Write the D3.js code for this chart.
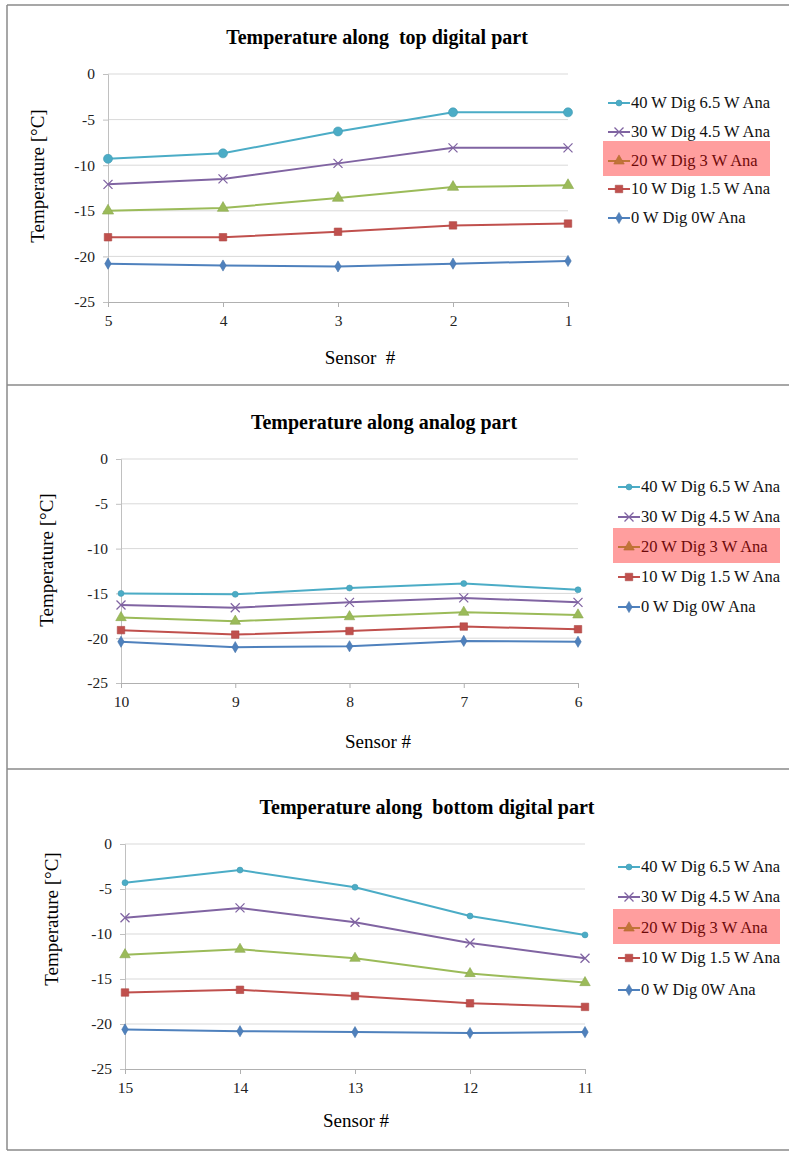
<!DOCTYPE html>
<meta charset="utf-8">
<style>
    body { margin: 0; background: #fff; }
    text { font-family: "Liberation Serif", "Times New Roman", serif; fill: #000; }
    .title { font-weight: bold; font-size: 20px; text-anchor: middle; white-space: pre; }
    .axis-title { font-size: 19px; text-anchor: middle; white-space: pre; }
    .legend text { font-size: 16.5px; fill: #111; }
    .grid line { stroke: #d9d9d9; stroke-width: 1; }
</style>
<body>
<svg id="chart" width="789" height="1152"></svg>
<script src="https://cdn.jsdelivr.net/npm/d3@7"></script>
<script>
// series names (legend order, top to bottom)
var seriesNames = ["40 W Dig 6.5 W Ana", "30 W Dig 4.5 W Ana", "20 W Dig 3 W Ana", "10 W Dig 1.5 W Ana", "0 W Dig 0W Ana"];
var seriesColors = ["#4bacc6", "#8064a2", "#9bbb59", "#c0504d", "#4f81bd"];
var seriesMarkers = ["circle", "x", "triangle", "square", "diamond"];

var yTicks = [0, -5, -10, -15, -20, -25];

// top digital part
var sensorsTop = ["5", "4", "3", "2", "1"];
var top40 = [-9.3, -8.7, -6.3, -4.2, -4.2];
var top30 = [-12.1, -11.5, -9.8, -8.1, -8.1];
var top20 = [-15.0, -14.7, -13.6, -12.4, -12.2];
var top10 = [-17.9, -17.9, -17.3, -16.6, -16.4];
var top0 = [-20.8, -21.0, -21.1, -20.8, -20.5];

// analog part
var sensorsAna = ["10", "9", "8", "7", "6"];
var ana40 = [-15.0, -15.1, -14.4, -13.9, -14.6];
var ana30 = [-16.3, -16.6, -16.0, -15.5, -16.0];
var ana20 = [-17.7, -18.1, -17.6, -17.1, -17.4];
var ana10 = [-19.1, -19.6, -19.2, -18.7, -19.0];
var ana0 = [-20.4, -21.0, -20.9, -20.3, -20.4];

// bottom digital part
var sensorsBot = ["15", "14", "13", "12", "11"];
var bot40 = [-4.3, -2.9, -4.8, -8.0, -10.1];
var bot30 = [-8.2, -7.1, -8.7, -11.0, -12.7];
var bot20 = [-12.3, -11.7, -12.7, -14.4, -15.4];
var bot10 = [-16.5, -16.2, -16.9, -17.7, -18.1];
var bot0 = [-20.6, -20.8, -20.9, -21.0, -20.9];

var panels = [
    {title: "Temperature along  top digital part", xTitle: "Sensor  #", sensors: sensorsTop,
     values: [top40, top30, top20, top10, top0],
     x0: 108, x1: 568, yTop: 74, yBot: 302, titleX: 377, titleY: 44,
     yLabX: 38, yLabY: 176, xLabX: 360, xLabY: 364, big: true,
     legX: 608, legRows: [103, 132, 161, 189, 218], hiY: 141},
    {title: "Temperature along analog part", xTitle: "Sensor #", sensors: sensorsAna,
     values: [ana40, ana30, ana20, ana10, ana0],
     x0: 121, x1: 578, yTop: 459, yBot: 683, titleX: 384, titleY: 429,
     yLabX: 47, yLabY: 560, xLabX: 378, xLabY: 748, big: false,
     legX: 618, legRows: [487, 517, 547, 577, 607], hiY: 528},
    {title: "Temperature along  bottom digital part", xTitle: "Sensor #", sensors: sensorsBot,
     values: [bot40, bot30, bot20, bot10, bot0],
     x0: 125, x1: 585, yTop: 844, yBot: 1069, titleX: 427, titleY: 814,
     yLabX: 52, yLabY: 919, xLabX: 356, xLabY: 1127, big: false,
     legX: 618, legRows: [867, 897, 928, 958, 990], hiY: 909}
];

var svg = d3.select("#chart");

// frames
var frame = svg.append("g").attr("stroke", "#8a8a8a").attr("stroke-width", 1.5);
frame.append("line").attr("x1", 7).attr("x2", 789).attr("y1", 5).attr("y2", 5);
frame.append("line").attr("x1", 7).attr("x2", 7).attr("y1", 5).attr("y2", 1150);
frame.append("line").attr("x1", 7).attr("x2", 789).attr("y1", 385).attr("y2", 385);
frame.append("line").attr("x1", 7).attr("x2", 789).attr("y1", 769).attr("y2", 769);
frame.append("line").attr("x1", 7).attr("x2", 789).attr("y1", 1150).attr("y2", 1150);

function marker(g, type, cx, cy, color, big) {
    if (type == "x") {
        var r = 4.5;
        g.append("path")
            .attr("d", "M" + (cx - r) + "," + (cy - r) + "L" + (cx + r) + "," + (cy + r) +
                "M" + (cx - r) + "," + (cy + r) + "L" + (cx + r) + "," + (cy - r))
            .attr("stroke", color).attr("stroke-width", 1.3).attr("fill", "none");
        return;
    }
    var sym = {circle: d3.symbolCircle, triangle: d3.symbolTriangle, square: d3.symbolSquare, diamond: d3.symbolDiamond}[type];
    var size = {circle: big ? 64 : 28, triangle: big ? 55 : 48, square: 56, diamond: 36}[type];
    g.append("path")
        .attr("d", d3.symbol().type(sym).size(size)())
        .attr("transform", "translate(" + cx + "," + cy + ")")
        .attr("fill", color)
        .attr("stroke", d3.color(color).darker(0.3))
        .attr("stroke-width", 0.6);
}

panels.forEach(function(p) {
    var g = svg.append("g");

    var x = d3.scalePoint().domain(p.sensors).range([p.x0, p.x1]);
    var y = d3.scaleLinear().domain([-25, 0]).range([p.yBot, p.yTop]);

    // gridlines
    g.append("g").attr("class", "grid")
        .selectAll("line")
        .data(yTicks.filter(function(d) { return d > -25; }))
        .enter().append("line")
        .attr("x1", p.x0).attr("x2", p.x1)
        .attr("y1", function(d) { return y(d); })
        .attr("y2", function(d) { return y(d); });

    var yAxis = g.append("g")
        .attr("transform", "translate(" + p.x0 + ",0)")
        .call(d3.axisLeft(y).tickValues(yTicks).tickSize(5).tickPadding(8)
            .tickFormat(function(d) { return String(d); }));
    yAxis.attr("font-family", null).attr("font-size", null);
    yAxis.selectAll("line, path").attr("stroke", "#c0c0c0");
    yAxis.selectAll("text")
        .style("font-family", "'Liberation Serif', serif")
        .style("font-size", "15.5px")
        .style("fill", "#222");

    var xAxis = g.append("g")
        .attr("transform", "translate(0," + p.yBot + ")")
        .call(d3.axisBottom(x).tickSize(5).tickPadding(8).tickSizeOuter(0));
    xAxis.attr("font-family", null).attr("font-size", null);
    xAxis.select(".domain").attr("stroke", "#b0b0b0");
    xAxis.selectAll("line").attr("stroke", "#b0b0b0");
    xAxis.selectAll("text")
        .style("font-family", "'Liberation Serif', serif")
        .style("font-size", "15.5px")
        .style("fill", "#222");

    // series
    var line = d3.line()
        .x(function(d, i) { return x(p.sensors[i]); })
        .y(function(d) { return y(d); });

    // draw bottom series first so top series lie above
    for (var k = p.values.length - 1; k >= 0; k--) {
        var vals = p.values[k];
        g.append("path")
            .datum(vals)
            .attr("d", line)
            .attr("fill", "none")
            .attr("stroke", seriesColors[k])
            .attr("stroke-width", 2);
        vals.forEach(function(v, i) {
            marker(g, seriesMarkers[k], x(p.sensors[i]), y(v), seriesColors[k], p.big);
        });
    }

    // titles
    g.append("text").attr("class", "title").attr("x", p.titleX).attr("y", p.titleY).text(p.title);
    g.append("text").attr("class", "axis-title").attr("x", p.xLabX).attr("y", p.xLabY).text(p.xTitle);
    g.append("text").attr("class", "axis-title")
        .attr("transform", "translate(" + (p.yLabX + 6) + "," + p.yLabY + ") rotate(-90)")
        .text("Temperature [°C]");

    // legend
    var leg = g.append("g").attr("class", "legend");
    seriesNames.forEach(function(name, k) {
        var ly = p.legRows[k];
        leg.append("line")
            .attr("x1", p.legX).attr("x2", p.legX + 22)
            .attr("y1", ly).attr("y2", ly)
            .attr("stroke", seriesColors[k]).attr("stroke-width", 2);
        marker(leg, seriesMarkers[k], p.legX + 11, ly, seriesColors[k], false);
        leg.append("text").attr("x", p.legX + 23).attr("y", ly + 5).text(name);
    });

    // highlight box over the third legend row
    g.append("rect")
        .attr("x", p.legX - 5).attr("y", p.hiY)
        .attr("width", 167).attr("height", 35)
        .attr("fill", "rgba(255, 0, 0, 0.38)");
});
</script>
</body>
